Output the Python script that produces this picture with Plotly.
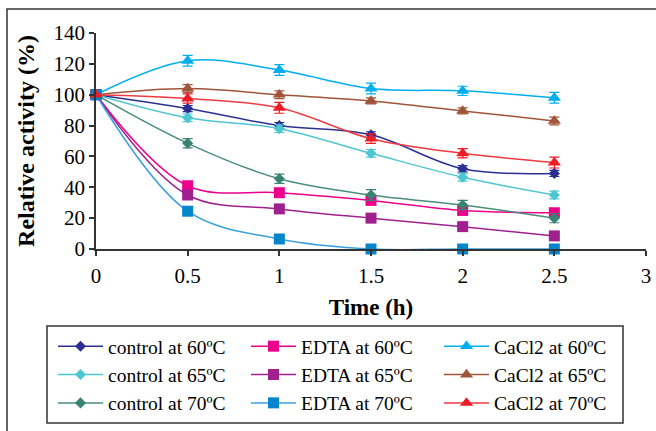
import plotly.graph_objects as go

time_h = [0, 0.5, 1, 1.5, 2, 2.5]

control_60 = [100, 91, 80, 74, 52, 49]
control_65 = [100, 85, 78, 62, 46.5, 35]
control_70 = [100, 68.5, 45.5, 35, 28.5, 20]
edta_60 = [100, 41, 36.5, 31.5, 25, 23.5]
edta_65 = [100, 35, 26, 20, 14.5, 8.5]
edta_70 = [100, 24.5, 6.5, 0, 0, 0]
cacl2_60 = [100, 122, 116, 104, 102.5, 98]
cacl2_65 = [100, 104, 100, 96, 89.5, 83]
cacl2_70 = [100, 97.5, 91.5, 71.5, 62, 56]

err_control_60 = [0, 2, 2, 2, 2, 2]
err_control_65 = [0, 2.5, 2.5, 2.5, 2.5, 2.5]
err_control_70 = [0, 3, 3, 3.5, 3, 3]
err_edta_60 = [0, 2, 2, 2, 2, 2]
err_edta_65 = [0, 2, 2, 2, 2, 2]
err_edta_70 = [0, 1, 1, 0, 0, 0]
err_cacl2_60 = [0, 3.5, 3.5, 3.5, 3, 3.5]
err_cacl2_65 = [0, 2.5, 2.5, 2, 2, 2.5]
err_cacl2_70 = [0, 3, 3.5, 3, 3, 3.5]

labels = ["control at 60ºC", "EDTA at 60ºC", "CaCl2 at 60ºC",
          "control at 65ºC", "EDTA at 65ºC", "CaCl2 at 65ºC",
          "control at 70ºC", "EDTA at 70ºC", "CaCl2 at 70ºC"]
series = [control_60, edta_60, cacl2_60,
          control_65, edta_65, cacl2_65,
          control_70, edta_70, cacl2_70]
errors = [err_control_60, err_edta_60, err_cacl2_60,
          err_control_65, err_edta_65, err_cacl2_65,
          err_control_70, err_edta_70, err_cacl2_70]
colors = ["#2B3192", "#EC008C", "#00AEEF",
          "#4EC6D2", "#A0208F", "#A0543A",
          "#3A8272", "#0585CC", "#EE1C25"]
line_colors = ["#2B3192", "#EC008C", "#00AEEF",
               "#4EC6D2", "#A0208F", "#A0543A",
               "#4A8E7E", "#3AA0DA", "#EE3A40"]
symbols = ["diamond", "square", "triangle-up"] * 3
sizes = {"diamond": 8.5, "square": 11, "triangle-up": 11.5}

FONT = "Liberation Serif"

fig = go.Figure()
for lab, ys, er, c, lc, sym in zip(labels, series, errors, colors, line_colors, symbols):
    fig.add_trace(go.Scatter(
        x=time_h, y=ys, name=lab, mode="lines+markers",
        line=dict(color=lc, width=1.5, shape="spline", smoothing=1.0),
        marker=dict(symbol=sym, size=sizes[sym], color=c, line=dict(width=0)),
        error_y=dict(type="data", array=er, visible=True, color=c, thickness=1.2, width=5),
        cliponaxis=False,
    ))

L, R, T, B = 96, 10, 33, 182
W, H = 656, 431
pw = W - L - R
ph = H - T - B

def px2x(px):
    return (px - L) / pw

def py2y(py):
    return (H - B - py) / ph

fig.update_layout(
    width=W, height=H,
    margin=dict(l=L, r=R, t=T, b=B, autoexpand=False),
    paper_bgcolor="white", plot_bgcolor="white",
    font=dict(family=FONT, size=21, color="black"),
    showlegend=True,
    legend=dict(
        orientation="h", x=px2x(53), y=py2y(327), xanchor="left", yanchor="top",
        borderwidth=0, bgcolor="rgba(0,0,0,0)",
        font=dict(family=FONT, size=19.5, color="black"),
        entrywidth=133, entrywidthmode="pixels", itemwidth=45,
        traceorder="normal", tracegroupgap=0,
    ),
    xaxis=dict(
        range=[0, 3], dtick=0.5, tick0=0, showgrid=False, zeroline=False,
        showline=True, linecolor="#333333", linewidth=1.5,
        ticks="outside", ticklen=5, tickcolor="#333333", tickwidth=1.5,
        tickfont=dict(family=FONT, size=21), ticklabelstandoff=2,
        title=dict(text="<b>Time (h)</b>", font=dict(family=FONT, size=23), standoff=12),
    ),
    yaxis=dict(
        range=[0, 140], dtick=20, tick0=0, showgrid=False, zeroline=False,
        showline=True, linecolor="#333333", linewidth=1.5,
        ticks="outside", ticklen=5, tickcolor="#333333", tickwidth=1.5,
        tickfont=dict(family=FONT, size=21),
        title=dict(text="<b>Relative activity (%)</b>", font=dict(family=FONT, size=24), standoff=12),
    ),
    shapes=[
        dict(type="rect", xref="paper", yref="paper",
             x0=px2x(7), x1=px2x(662), y0=py2y(440), y1=py2y(9),
             line=dict(color="#333333", width=1.5), fillcolor="rgba(0,0,0,0)", layer="below"),
        dict(type="rect", xref="paper", yref="paper",
             x0=px2x(47), x1=px2x(623), y0=py2y(423), y1=py2y(326),
             line=dict(color="#333333", width=1.5), fillcolor="rgba(0,0,0,0)", layer="below"),
    ],
)

fig.write_html("out.html", config={"displayModeBar": False},
               post_script="document.body.style.margin='0';")
